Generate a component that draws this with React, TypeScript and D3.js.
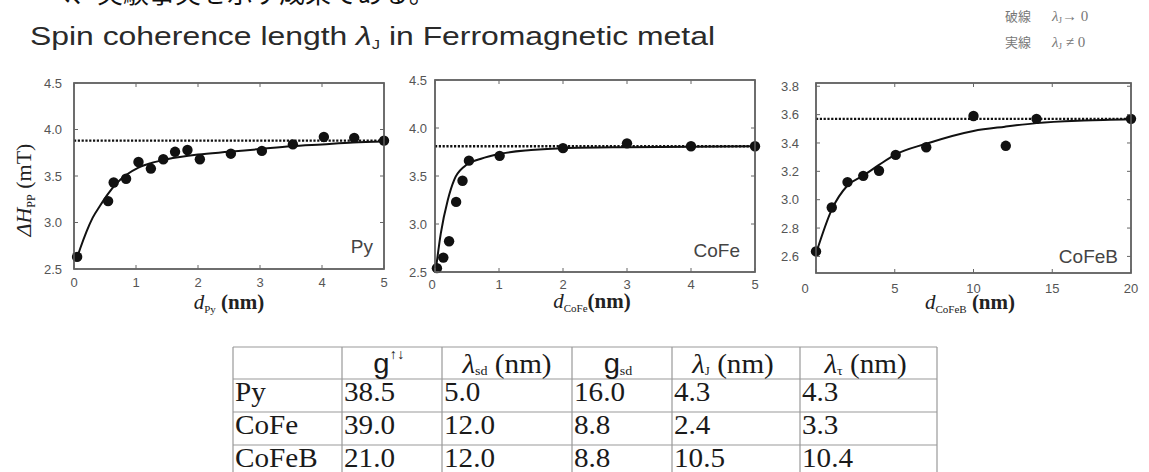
import React from "react";
import * as d3 from "d3";

// ---- Py ----
const pyX = [0.05, 0.55, 0.64, 0.84, 1.04, 1.24, 1.44, 1.63, 1.83, 2.03, 2.53, 3.03, 3.53, 4.03, 4.52, 5.0];
const pyY = [2.63, 3.23, 3.43, 3.47, 3.65, 3.58, 3.68, 3.76, 3.78, 3.68, 3.74, 3.77, 3.84, 3.92, 3.91, 3.88];
const pyFitX = [0.05, 0.1, 0.2, 0.3, 0.42, 0.54, 0.7, 0.84, 1.04, 1.25, 1.5, 2.0, 2.5, 3.0, 3.5, 4.0, 4.5, 5.0];
const pyFitY = [2.62, 2.72, 2.9, 3.05, 3.18, 3.3, 3.43, 3.51, 3.59, 3.64, 3.68, 3.73, 3.76, 3.79, 3.82, 3.84, 3.86, 3.87];
const pyLimit = 3.88;

// ---- CoFe ----
const cofeX = [0.03, 0.13, 0.22, 0.33, 0.43, 0.53, 1.01, 2.0, 3.0, 4.0, 5.0];
const cofeY = [2.54, 2.65, 2.82, 3.23, 3.45, 3.66, 3.71, 3.79, 3.84, 3.81, 3.81];
const cofeFitX = [0.02, 0.09, 0.2, 0.3, 0.46, 0.72, 1.0, 1.5, 2.0, 3.0, 4.0, 5.0];
const cofeFitY = [2.56, 2.9, 3.25, 3.46, 3.6, 3.68, 3.73, 3.77, 3.79, 3.8, 3.805, 3.81];
const cofeLimit = 3.81;

// ---- CoFeB ----
const cofebX = [0.0, 1.0, 2.0, 3.0, 4.0, 5.06, 7.0, 10.0, 12.05, 14.0, 20.0];
const cofebY = [2.635, 2.945, 3.124, 3.168, 3.204, 3.316, 3.37, 3.59, 3.38, 3.57, 3.57];
const cofebFitX = [0.0, 1, 2, 3, 4, 5, 7, 10, 12, 14, 17, 20];
const cofebFitY = [2.62, 2.93, 3.1, 3.17, 3.245, 3.316, 3.395, 3.485, 3.515, 3.54, 3.558, 3.567];
const cofebLimit = 3.57;

// ---- table ----
const tableRows = ["Py", "CoFe", "CoFeB"];
const gUpDown = ["38.5", "39.0", "21.0"];
const lambdaSd = ["5.0", "12.0", "12.0"];
const gSd = ["16.0", "8.8", "8.8"];
const lambdaJ = ["4.3", "2.4", "10.5"];
const lambdaTau = ["4.3", "3.3", "10.4"];

const SANS = "'Liberation Sans', Arial, sans-serif";
const SERIF = "'Liberation Serif', 'Times New Roman', serif";
const CJK = "'Noto Sans CJK JP', sans-serif";

type PanelProps = {
  left: number;
  right: number;
  top: number;
  bottom: number;
  xDomain: [number, number];
  yDomain: [number, number];
  xTicks: number[];
  yTicks: number[];
  yLabelGap: number;
  xLabelGap: number;
  xs: number[];
  ys: number[];
  fitX: number[];
  fitY: number[];
  limit: number;
  name: string;
  nameX: number;
  nameY: number;
  sub: string;
  labelX: number;
  labelY: number;
  labelSpace: string;
  zeroShift?: number;
};

function Panel(p: PanelProps) {
  const x = d3.scaleLinear().domain(p.xDomain).range([p.left, p.right]);
  const y = d3.scaleLinear().domain(p.yDomain).range([p.bottom, p.top]);
  const fmt = d3.format(".1f");
  const fit = d3
    .line<number>()
    .x((_, i) => x(p.fitX[i]))
    .y((d) => y(d))
    .curve(d3.curveMonotoneX)(p.fitY) as string;
  const tick = 4;
  return (
    <g>
      {/* dashed λJ → 0 limit */}
      <line
        x1={x(p.xDomain[0])}
        x2={x(p.xDomain[1])}
        y1={y(p.limit)}
        y2={y(p.limit)}
        stroke="#111"
        strokeWidth={2.4}
        strokeDasharray="2.2 1.6"
      />
      {/* fitted curve */}
      <path d={fit} fill="none" stroke="#111" strokeWidth={2} />
      {p.xs.map((v, i) => (
        <circle key={i} cx={x(v)} cy={y(p.ys[i])} r={5.2} fill="#111" />
      ))}
      {/* frame */}
      <rect
        x={p.left}
        y={p.top}
        width={p.right - p.left}
        height={p.bottom - p.top}
        fill="none"
        stroke="#555"
        strokeWidth={1.7}
      />
      {p.xTicks.map((t) => (
        <g key={"xt" + t}>
          <line x1={x(t)} x2={x(t)} y1={p.bottom} y2={p.bottom - tick} stroke="#666" />
          <line x1={x(t)} x2={x(t)} y1={p.top} y2={p.top + tick} stroke="#666" />
          <text
            x={x(t) + (t === 0 && p.zeroShift ? p.zeroShift : 0)}
            y={p.bottom + p.xLabelGap}
            dy="0.35em"
            textAnchor="middle"
            fontFamily={SANS}
            fontSize={13}
            fill="#555"
          >
            {t}
          </text>
        </g>
      ))}
      {p.yTicks.map((t) => (
        <g key={"yt" + t}>
          <line x1={p.left} x2={p.left + tick} y1={y(t)} y2={y(t)} stroke="#666" />
          <line x1={p.right} x2={p.right - tick} y1={y(t)} y2={y(t)} stroke="#666" />
          <text
            x={p.left - p.yLabelGap}
            y={y(t)}
            dy="0.35em"
            textAnchor="end"
            fontFamily={SANS}
            fontSize={13}
            fill="#555"
          >
            {fmt(t)}
          </text>
        </g>
      ))}
      <text
        x={p.nameX}
        y={p.nameY}
        textAnchor="end"
        fontFamily={SANS}
        fontSize={19}
        fill="#444"
      >
        {p.name}
      </text>
      <text
        x={p.labelX}
        y={p.labelY}
        textAnchor="middle"
        fontFamily={SERIF}
        fontSize={21}
        fill="#222"
      >
        <tspan fontStyle="italic">d</tspan>
        <tspan fontSize={11} dy={4}>
          {p.sub}
        </tspan>
        <tspan dy={-4} fontWeight="bold">
          {p.labelSpace}(nm)
        </tspan>
      </text>
    </g>
  );
}

function Table() {
  const cols = [233, 342, 442, 572, 672, 800, 937];
  const rowsY = [347, 379, 412, 445, 478];
  const body = [tableRows, gUpDown, lambdaSd, gSd, lambdaJ, lambdaTau];
  const sx = 1.08;
  const cell = (cx: number, cy: number, content: React.ReactNode, anchor = "start", key?: string) => (
    <text
      key={key}
      transform={`translate(${cx},${cy}) scale(${sx},1)`}
      textAnchor={anchor}
      fontFamily={SERIF}
      fontSize={27}
      fill="#1a1a1a"
    >
      {content}
    </text>
  );
  const mid = (i: number) => (cols[i] + cols[i + 1]) / 2;
  const hy = 373;
  return (
    <g>
      <rect x={cols[0]} y={rowsY[0]} width={cols[6] - cols[0]} height={rowsY[4] - rowsY[0]} fill="#fff" />
      {rowsY.map((ry) => (
        <line key={"r" + ry} x1={cols[0]} x2={cols[6]} y1={ry} y2={ry} stroke="#999" strokeWidth={1.2} />
      ))}
      {cols.map((cx) => (
        <line key={"c" + cx} x1={cx} x2={cx} y1={rowsY[0]} y2={rowsY[4]} stroke="#999" strokeWidth={1.2} />
      ))}
      {cell(
        mid(1) - 3,
        hy,
        <>
          <tspan fontFamily={SANS} fontSize={27}>g</tspan>
          <tspan fontSize={14} dy={-14}>↑↓</tspan>
        </>,
        "middle",
        "h1"
      )}
      {cell(
        mid(2),
        hy,
        <>
          <tspan fontStyle="italic">λ</tspan>
          <tspan fontSize={13} dy={2}>sd</tspan>
          <tspan dy={-2}> (nm)</tspan>
        </>,
        "middle",
        "h2"
      )}
      {cell(
        mid(3) - 4,
        hy,
        <>
          <tspan fontFamily={SANS} fontSize={27}>g</tspan>
          <tspan fontSize={13} dy={2}>sd</tspan>
        </>,
        "middle",
        "h3"
      )}
      {cell(
        mid(4) - 3,
        hy,
        <>
          <tspan fontStyle="italic">λ</tspan>
          <tspan fontSize={12} dy={2}>J</tspan>
          <tspan dy={-2}> (nm)</tspan>
        </>,
        "middle",
        "h4"
      )}
      {cell(
        mid(5) - 3,
        hy,
        <>
          <tspan fontStyle="italic">λ</tspan>
          <tspan fontSize={13} dy={2}>τ</tspan>
          <tspan dy={-2}> (nm)</tspan>
        </>,
        "middle",
        "h5"
      )}
      {tableRows.map((_, r) =>
        body.map((col, c) => cell(cols[c] + 2, rowsY[r + 1] + 22, col[r], "start", `b${r}-${c}`))
      )}
    </g>
  );
}

export default function App() {
  const W = 1149;
  const H = 472;
  return (
    <svg
      width={W}
      height={H}
      viewBox={`0 0 ${W} ${H}`}
      style={{ position: "absolute", left: 0, top: 0, background: "#fff" }}
    >
      <rect width={W} height={H} fill="#fff" />
      <text x={45} y={3} fontFamily={CJK} fontSize={26} fill="#111">
        べ、実験事実を示す成果である。
      </text>
      <text
        x={30}
        y={45}
        fontFamily={SANS}
        fontSize={25}
        fill="#2a2a2a"
        textLength={685}
        lengthAdjust="spacingAndGlyphs"
      >
        Spin coherence length <tspan fontStyle="italic">λ</tspan>
        <tspan fontSize={13} dy={4}>J</tspan>
        <tspan dy={-4}> in Ferromagnetic metal</tspan>
      </text>
      {/* line-style key */}
      <g fill="#777">
        <text x={1005} y={21} fontFamily={CJK} fontSize={13}>破線</text>
        <text x={1052} y={21} fontFamily={SERIF} fontSize={15}>
          <tspan fontStyle="italic">λ</tspan>
          <tspan fontSize={9} dy={2}>J</tspan>
          <tspan dy={-2}>→ 0</tspan>
        </text>
        <text x={1005} y={47} fontFamily={CJK} fontSize={13}>実線</text>
        <text x={1052} y={47} fontFamily={SERIF} fontSize={15}>
          <tspan fontStyle="italic">λ</tspan>
          <tspan fontSize={9} dy={2}>J</tspan>
          <tspan dy={-2}> ≠  0</tspan>
        </text>
      </g>
      {/* y-axis title */}
      <text
        transform="translate(31,190) rotate(-90)"
        textAnchor="middle"
        fontFamily={SERIF}
        fontSize={22}
        fill="#222"
      >
        <tspan fontStyle="italic">ΔH</tspan>
        <tspan fontSize={12} dy={4}>PP</tspan>
        <tspan dy={-4}> (mT)</tspan>
      </text>
      <Panel
        left={74}
        right={384}
        top={83}
        bottom={269}
        xDomain={[0, 5]}
        yDomain={[2.5, 4.5]}
        xTicks={[0, 1, 2, 3, 4, 5]}
        yTicks={[2.5, 3, 3.5, 4, 4.5]}
        yLabelGap={12}
        xLabelGap={13}
        xs={pyX}
        ys={pyY}
        fitX={pyFitX}
        fitY={pyFitY}
        limit={pyLimit}
        name="Py"
        nameX={373}
        nameY={253}
        sub="Py"
        labelX={229}
        labelY={309}
        labelSpace=" "
      />
      <Panel
        left={435}
        right={755}
        top={80}
        bottom={272}
        xDomain={[0, 5]}
        yDomain={[2.5, 4.5]}
        xTicks={[0, 1, 2, 3, 4, 5]}
        yTicks={[2.5, 3, 3.5, 4, 4.5]}
        yLabelGap={8}
        xLabelGap={12}
        xs={cofeX}
        ys={cofeY}
        fitX={cofeFitX}
        fitY={cofeFitY}
        limit={cofeLimit}
        name="CoFe"
        nameX={740}
        nameY={257}
        sub="CoFe"
        labelX={592}
        labelY={308}
        labelSpace=""
        zeroShift={-3}
      />
      <Panel
        left={816}
        right={1131}
        top={83}
        bottom={273}
        xDomain={[0, 20]}
        yDomain={[2.483, 3.823]}
        xTicks={[0, 5, 10, 15, 20]}
        yTicks={[2.6, 2.8, 3.0, 3.2, 3.4, 3.6, 3.8]}
        yLabelGap={17}
        xLabelGap={15}
        xs={cofebX}
        ys={cofebY}
        fitX={cofebFitX}
        fitY={cofebFitY}
        limit={cofebLimit}
        name="CoFeB"
        nameX={1118}
        nameY={263}
        sub="CoFeB"
        labelX={970}
        labelY={309}
        labelSpace=" "
        zeroShift={-11}
      />
      <Table />
    </svg>
  );
}
